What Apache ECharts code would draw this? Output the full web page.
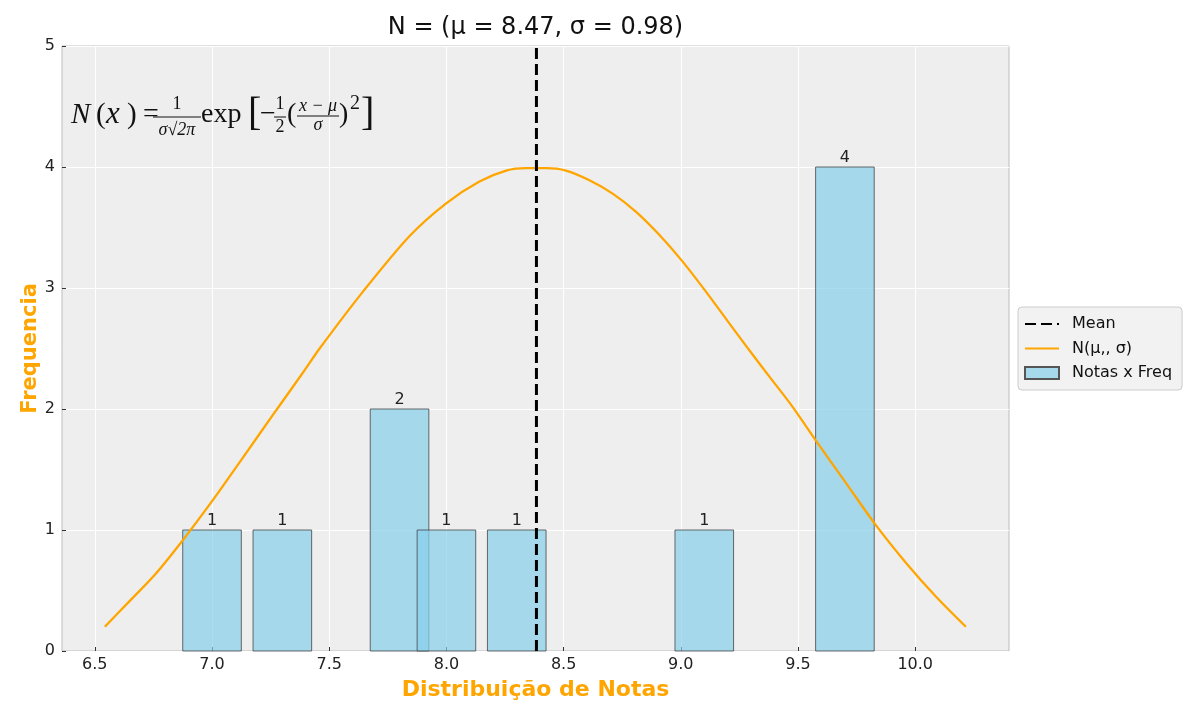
<!DOCTYPE html>
<html>
<head>
<meta charset="utf-8">
<script src="https://cdn.jsdelivr.net/npm/echarts@6/dist/echarts.min.js"></script>
<style>html,body{margin:0;padding:0;background:#fff}#c{width:1200px;height:720px}</style>
</head>
<body>
<div id="c"></div>
<script>
// ---- data ----
const barCenters = [7.0, 7.3, 7.8, 8.0, 8.3, 9.1, 9.7];
const barCounts  = [1, 1, 2, 1, 1, 1, 4];
const meanValue = 8.384;
const curveX = [6.543, 6.642, 6.756, 6.877, 6.997, 7.125, 7.274, 7.395, 7.459, 7.644, 7.843, 7.999, 8.141, 8.255, 8.34, 8.425, 8.51, 8.61, 8.709, 8.809, 8.908, 9.007, 9.107, 9.206, 9.306, 9.377, 9.476, 9.583, 9.704, 9.832, 9.96, 10.088, 10.216];
const curveY = [0.20, 0.40, 0.63, 0.92, 1.23, 1.58, 1.99, 2.32, 2.50, 2.97, 3.43, 3.70, 3.88, 3.97, 3.99, 3.99, 3.97, 3.89, 3.78, 3.63, 3.44, 3.22, 2.97, 2.71, 2.45, 2.27, 2.02, 1.72, 1.39, 1.04, 0.73, 0.45, 0.20];
const xTicks = [6.5, 7.0, 7.5, 8.0, 8.5, 9.0, 9.5, 10.0];
const yTicks = [0, 1, 2, 3, 4, 5];
const titleText = 'N = (μ = 8.47, σ = 0.98)';
const seriesNames = ['Mean', 'N(μ,, σ)', 'Notas x Freq'];

const BAR_W = 0.25;
const FONT = 'DejaVu Sans';
const SERIF = 'Liberation Serif';

const chart = echarts.init(document.getElementById('c'), null, {renderer: 'canvas'});

const barData = barCenters.map((c, i) => [c, barCounts[i]]);
const curveData = curveX.map((x, i) => [x, curveY[i]]);

const formula = [
  {t: 'N', x: 71, y: 115, s: 29, st: 'italic'},
  {t: '(', x: 96, y: 115, s: 29},
  {t: 'x', x: 106, y: 115, s: 31, st: 'italic'},
  {t: ')', x: 127, y: 115, s: 29},
  {t: '=', x: 143, y: 115, s: 28},
  {t: '1', x: 177, y: 104, s: 18, a: 'center'},
  {t: 'σ√2π', x: 177, y: 130, s: 18, a: 'center', st: 'italic'},
  {t: 'exp', x: 201, y: 115, s: 28},
  {t: '[', x: 248, y: 114, s: 40},
  {t: '−', x: 260, y: 115, s: 28},
  {t: '1', x: 280, y: 104, s: 18, a: 'center'},
  {t: '2', x: 280, y: 127, s: 18, a: 'center'},
  {t: '(', x: 287, y: 115, s: 28},
  {t: 'x − μ', x: 318, y: 106, s: 18, a: 'center', st: 'italic'},
  {t: 'σ', x: 318, y: 125, s: 18, a: 'center', st: 'italic'},
  {t: ')', x: 339, y: 115, s: 28},
  {t: '2', x: 350, y: 104, s: 20},
  {t: ']', x: 361, y: 114, s: 40}
];
const graphics = formula.map(f => ({
  type: 'text', z: 100,
  style: {text: f.t, x: f.x, y: f.y, textAlign: f.a || 'left', textVerticalAlign: 'middle',
    font: (f.st || 'normal') + ' ' + f.s + 'px "' + SERIF + '"', fill: '#111'}
}));
graphics.push({type: 'line', z: 100, shape: {x1: 153, y1: 117, x2: 201, y2: 117}, style: {stroke: '#111', lineWidth: 1}});
graphics.push({type: 'line', z: 100, shape: {x1: 274, y1: 117, x2: 286, y2: 117}, style: {stroke: '#111', lineWidth: 1}});
graphics.push({type: 'line', z: 100, shape: {x1: 297, y1: 116, x2: 339, y2: 116}, style: {stroke: '#111', lineWidth: 1}});
graphics.push({type: 'text', z: 100, style: {text: titleText, x: 535.5, y: 28, textAlign: 'center', textVerticalAlign: 'middle',
  font: '24px "' + FONT + '"', fill: '#111'}});

const option = {
  animation: false,
  backgroundColor: '#ffffff',
  grid: {left: 62, right: 191, top: 46, bottom: 69, show: true, backgroundColor: '#eeeeee', borderColor: '#bdbdbd', borderWidth: 1},
  legend: {
    orient: 'vertical', left: 1018, top: 307, padding: [9, 10, 9, 6],
    itemWidth: 34, itemHeight: 12, itemGap: 8.5,
    backgroundColor: '#f2f2f2', borderColor: '#cccccc', borderWidth: 1, borderRadius: 4,
    textStyle: {fontFamily: FONT, fontSize: 16, color: '#111', padding: [0, 0, 0, 8]},
    data: [
      {name: seriesNames[0], itemStyle: {opacity: 0}},
      {name: seriesNames[1], itemStyle: {opacity: 0}},
      {name: seriesNames[2], icon: 'rect'}
    ]
  },
  xAxis: {
    type: 'value', min: 6.36, max: 10.4,
    name: 'Distribuição de Notas', nameLocation: 'middle', nameGap: 28, nameMoveOverlap: false,
    nameTextStyle: {fontFamily: FONT, fontSize: 22, fontWeight: 'bold', color: '#ffa500'},
    axisLine: {show: false},
    axisTick: {show: true, inside: true, length: 4, lineStyle: {color: '#333'}, customValues: xTicks},
    axisLabel: {customValues: xTicks, fontFamily: FONT, fontSize: 16, color: '#222', margin: 6,
      formatter: v => v.toFixed(1)},
    splitLine: {show: true, lineStyle: {color: '#ffffff', width: 1}}
  },
  yAxis: {
    type: 'value', min: 0, max: 5, interval: 1,
    name: 'Frequencia', nameLocation: 'middle', nameGap: 21, nameRotate: 90, nameMoveOverlap: false,
    nameTextStyle: {fontFamily: FONT, fontSize: 21, fontWeight: 'bold', color: '#ffa500'},
    axisLine: {show: false},
    axisTick: {show: true, inside: true, length: 4, lineStyle: {color: '#333'}},
    axisLabel: {fontFamily: FONT, fontSize: 16, color: '#222', margin: 7,
      formatter: v => yTicks.includes(v) ? String(v) : ''},
    splitLine: {show: true, lineStyle: {color: '#ffffff', width: 1}}
  },
  series: [
    {
      name: seriesNames[0], type: 'line', z: 5,
      data: [[meanValue, 0], [meanValue, 5]],
      symbol: 'none', silent: true,
      lineStyle: {color: '#000000', width: 3, type: [11, 5]},
      itemStyle: {color: '#000000'}
    },
    {
      name: seriesNames[1], type: 'line', z: 4,
      data: curveData, symbol: 'none', smooth: 0.3,
      lineStyle: {color: '#ffa500', width: 2.3},
      itemStyle: {color: '#ffa500'}
    },
    {
      name: seriesNames[2], type: 'custom', z: 3,
      data: barData,
      encode: {x: 0, y: 1},
      itemStyle: {color: 'rgba(135,206,235,0.7)', borderColor: '#555555', borderWidth: 1},
      renderItem: function (params, api) {
        const c = api.value(0), h = api.value(1);
        const p0 = api.coord([c - BAR_W / 2, h]);
        const p1 = api.coord([c + BAR_W / 2, 0]);
        return {
          type: 'group',
          children: [
            {type: 'rect', shape: {x: p0[0], y: p0[1], width: p1[0] - p0[0], height: p1[1] - p0[1]},
              style: {fill: 'rgba(135,206,235,0.7)', stroke: 'rgba(60,60,60,0.75)', lineWidth: 1}},
            {type: 'text', style: {text: String(h), x: (p0[0] + p1[0]) / 2, y: p0[1] - 1,
              textAlign: 'center', textVerticalAlign: 'bottom', font: '16px "' + FONT + '"', fill: '#222'}}
          ]
        };
      }
    }
  ],
  graphic: graphics
};
chart.setOption(option);
</script>
</body>
</html>
